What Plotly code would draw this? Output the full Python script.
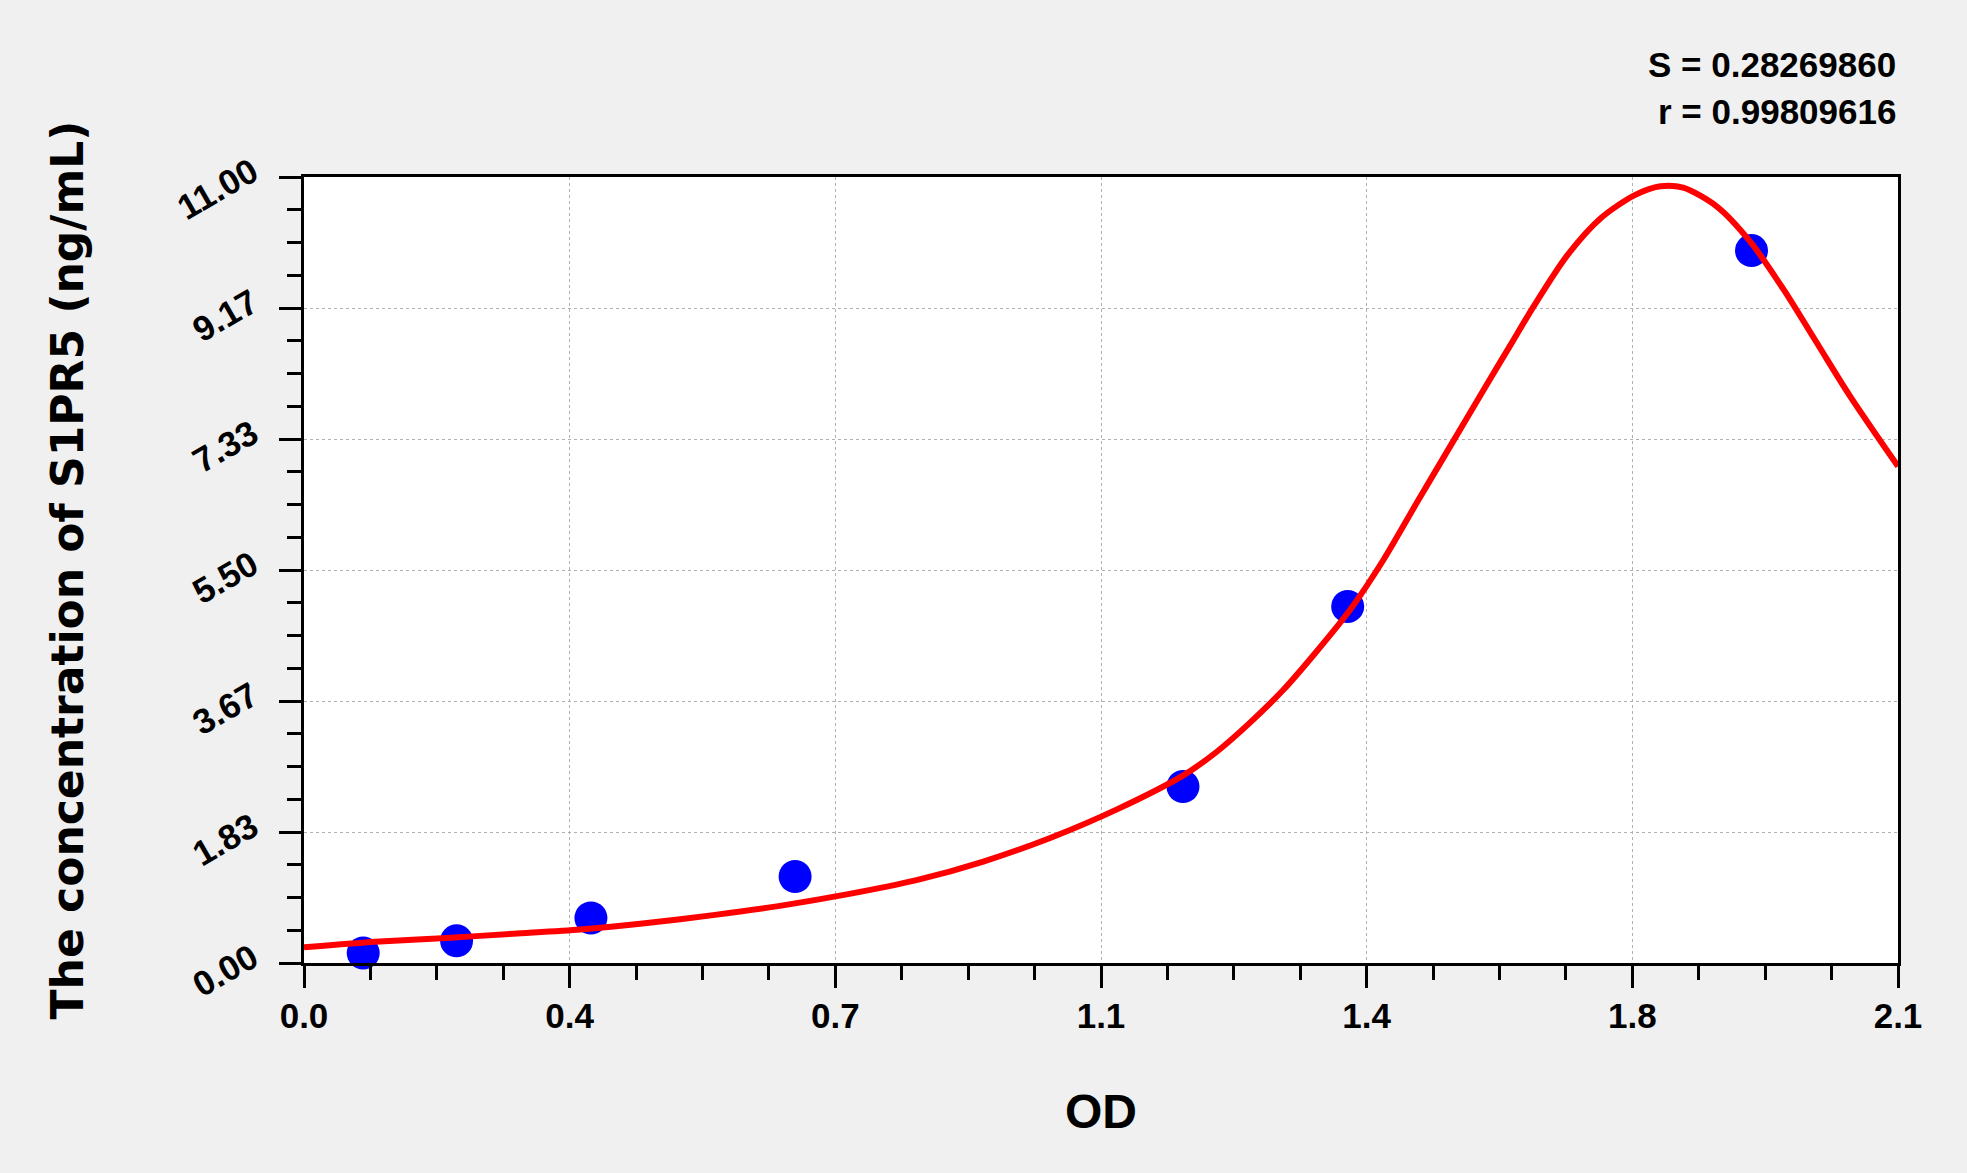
import plotly.graph_objects as go

# standard points (OD, concentration ng/mL)
std_od = [0.078, 0.201, 0.378, 0.647, 1.158, 1.375, 1.907]
std_conc = [0.14, 0.31, 0.63, 1.21, 2.47, 4.99, 9.97]

# fitted curve
fit_od = [0.000, 0.100, 0.188, 0.276, 0.364, 0.452, 0.539, 0.627, 0.715, 0.807,
          0.895, 0.983, 1.071, 1.159, 1.203, 1.246, 1.290, 1.334, 1.378, 1.422,
          1.466, 1.510, 1.554, 1.589, 1.620, 1.664, 1.708, 1.752, 1.787, 1.817,
          1.861, 1.905, 1.949, 1.993, 2.037, 2.100]
fit_conc = [0.22, 0.30, 0.35, 0.41, 0.47, 0.56, 0.67, 0.80, 0.96, 1.16,
            1.42, 1.75, 2.15, 2.63, 2.96, 3.36, 3.82, 4.36, 4.94, 5.64,
            6.44, 7.23, 8.02, 8.64, 9.19, 9.90, 10.42, 10.74, 10.87, 10.85,
            10.59, 10.10, 9.43, 8.68, 7.93, 6.95]

x_max = 2.1
y_max = 11.0
x_ticktext = ["0.0", "0.4", "0.7", "1.1", "1.4", "1.8", "2.1"]
y_ticktext = ["0.00", "1.83", "3.67", "5.50", "7.33", "9.17", "11.00"]

x_tickvals = [i * x_max / 6 for i in range(7)]
y_tickvals = [i * y_max / 6 for i in range(7)]

fig = go.Figure()
fig.add_trace(go.Scatter(
    x=std_od, y=std_conc, mode='markers',
    marker=dict(color='#0000ff', size=33, line=dict(width=0)),
    showlegend=False, cliponaxis=False
))
fig.add_trace(go.Scatter(
    x=fit_od, y=fit_conc, mode='lines',
    line=dict(color='#ff0000', width=6, shape='spline', smoothing=0.8),
    showlegend=False
))

axis_common = dict(
    showline=True, linewidth=3, linecolor='black', mirror=True,
    ticks='outside', ticklen=22, tickwidth=3, tickcolor='black',
    showgrid=True, gridcolor='#b0b0b0', gridwidth=1, griddash='dot',
    zeroline=False,
    tickfont=dict(family='Liberation Sans, Arial', size=35, color='black', weight='bold'),
)

fig.update_xaxes(
    range=[0, x_max], tickmode='array', tickvals=x_tickvals, ticktext=x_ticktext,
    ticklabelstandoff=-2,
    minor=dict(tickmode='linear', tick0=0, dtick=x_max / 24, ticks='outside',
               ticklen=14, tickwidth=3, tickcolor='black', showgrid=False),
    title=dict(text='OD', standoff=61,
               font=dict(family='Liberation Sans, Arial', size=48, color='black', weight='bold')),
    **axis_common
)
fig.update_yaxes(
    range=[0, y_max], tickmode='array', tickvals=y_tickvals, ticktext=y_ticktext,
    tickangle=-30, ticklabelstandoff=20, ticklabelshift=-9,
    minor=dict(tickmode='linear', tick0=0, dtick=y_max / 24, ticks='outside',
               ticklen=14, tickwidth=3, tickcolor='black', showgrid=False),
    title=dict(text='The concentration of S1PR5 (ng/mL)', standoff=74,
               font=dict(family='DejaVu Sans', size=44, color='black', weight='bold')),
    **axis_common
)

stat_font = dict(family='Liberation Sans, Arial', size=35, color='black', weight='bold')
fig.add_annotation(text='S = 0.28269860', xref='paper', yref='paper', x=1.0, y=1.1425,
                   xanchor='right', yanchor='middle', showarrow=False, font=stat_font)
fig.add_annotation(text='r = 0.99809616', xref='paper', yref='paper', x=1.0, y=1.0827,
                   xanchor='right', yanchor='middle', showarrow=False, font=stat_font)

fig.update_layout(
    width=1967, height=1173,
    margin=dict(l=304, r=69, t=177, b=210, autoexpand=False),
    paper_bgcolor='#f0f0f0', plot_bgcolor='white',
)

fig.write_html("out.html", config={'displayModeBar': False},
               post_script="document.body.style.margin='0';")
